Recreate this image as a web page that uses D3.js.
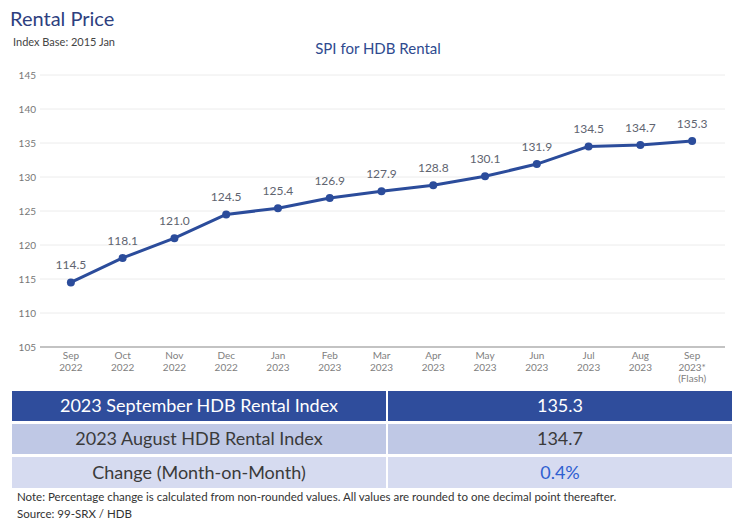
<!DOCTYPE html>
<html><head><meta charset="utf-8">
<script src="https://cdn.jsdelivr.net/npm/d3@7"></script>
<style>body{margin:0;background:#fff}svg{display:block}</style>
</head><body>
<script>
const months = ["Sep","Oct","Nov","Dec","Jan","Feb","Mar","Apr","May","Jun","Jul","Aug","Sep"];
const years = ["2022","2022","2022","2022","2023","2023","2023","2023","2023","2023","2023","2023","2023*"];
const extra = ["","","","","","","","","","","","","(Flash)"];
const values = [114.5,118.1,121.0,124.5,125.4,126.9,127.9,128.8,130.1,131.9,134.5,134.7,135.3];
const yTicks = [105,110,115,120,125,130,135,140,145];
const tableLabels = ["2023 September HDB Rental Index","2023 August HDB Rental Index","Change (Month-on-Month)"];
const tableValues = ["135.3","134.7","0.4%"];

const W=750,H=529,font="Lato, 'Open Sans', sans-serif";
const svg=d3.select("body").append("svg").attr("width",W).attr("height",H).style("font-family",font);

svg.append("text").attr("x",10).attr("y",26).attr("font-size",20).attr("fill","#2e3f7f").text("Rental Price");
svg.append("text").attr("x",13).attr("y",46).attr("font-size",11).attr("fill","#444").text("Index Base: 2015 Jan");
svg.append("text").attr("x",378).attr("y",54).attr("text-anchor","middle").attr("font-size",15).attr("fill","#2e4a8f").text("SPI for HDB Rental");

const x=d3.scaleBand().domain(d3.range(values.length)).range([45,718]);
const y=d3.scaleLinear().domain([105,145]).range([347,75]);

const g=svg.append("g");
g.selectAll("line.grid").data(yTicks.filter(t=>t>105)).join("line")
 .attr("x1",40).attr("x2",725).attr("y1",d=>y(d)).attr("y2",d=>y(d))
 .attr("stroke","#ececec").attr("stroke-width",1);
g.append("line").attr("x1",40).attr("x2",725).attr("y1",y(105)).attr("y2",y(105)).attr("stroke","#888").attr("stroke-width",1.2);

const yAxis=svg.append("g").attr("transform","translate(38,0)")
 .call(d3.axisLeft(y).tickValues(yTicks).tickSize(0).tickPadding(2));
yAxis.select(".domain").remove();
yAxis.selectAll("text").attr("font-size",10).attr("fill","#777").style("font-family",font);

const xAxis=svg.append("g").attr("transform",`translate(0,${y(105)})`)
 .call(d3.axisBottom(x).tickSize(0).tickFormat(""));
xAxis.select(".domain").remove();
const xl=xAxis.selectAll(".tick text").attr("font-size",10).attr("fill","#808080").style("font-family",font).attr("y",0).attr("dy",0);
xl.each(function(d){
  const t=d3.select(this);
  t.append("tspan").attr("x",0).attr("y",12).text(months[d]);
  t.append("tspan").attr("x",0).attr("y",24).text(years[d]);
  if(extra[d]) t.append("tspan").attr("x",0).attr("y",35).text(extra[d]);
});

const cx=i=>x(i)+x.bandwidth()/2;
svg.append("path").datum(values).attr("fill","none").attr("stroke","#2b4c9b").attr("stroke-width",3)
 .attr("stroke-linejoin","round")
 .attr("d",d3.line().x((d,i)=>cx(i)).y(d=>y(d)));
svg.selectAll("circle.pt").data(values).join("circle").attr("cx",(d,i)=>cx(i)).attr("cy",d=>y(d)).attr("r",4).attr("fill","#2b4c9b");
svg.selectAll("text.lbl").data(values).join("text").attr("x",(d,i)=>cx(i)).attr("y",d=>y(d)-13)
 .attr("text-anchor","middle").attr("font-size",12).attr("fill","#606470").text(d=>d.toFixed(1));

// table
const rows=[{y:391,h:30,bg:"#2f4d9c",fg:"#fff",vfg:"#fff"},{y:424,h:30,bg:"#bfc8e5",fg:"#3a3a3a",vfg:"#3a3a3a"},{y:457,h:31,bg:"#d6dbf0",fg:"#3a3a3a",vfg:"#2f5fd0"}];
const tb=svg.append("g");
rows.forEach((r,i)=>{
  tb.append("rect").attr("x",12).attr("y",r.y).attr("width",374).attr("height",r.h).attr("fill",r.bg);
  tb.append("rect").attr("x",388).attr("y",r.y).attr("width",344).attr("height",r.h).attr("fill",r.bg);
  tb.append("text").attr("x",199).attr("y",r.y+r.h/2+6).attr("text-anchor","middle").attr("font-size",18).attr("fill",r.fg).text(tableLabels[i]);
  tb.append("text").attr("x",560).attr("y",r.y+r.h/2+6).attr("text-anchor","middle").attr("font-size",18).attr("fill",r.vfg).text(tableValues[i]);
});
svg.append("text").attr("x",17).attr("y",501).attr("font-size",11.5).attr("fill","#333").text("Note: Percentage change is calculated from non-rounded values.  All values are rounded to one decimal point thereafter.");
svg.append("text").attr("x",17).attr("y",518).attr("font-size",11.5).attr("fill","#333").text("Source: 99-SRX / HDB");
</script>
</body></html>
